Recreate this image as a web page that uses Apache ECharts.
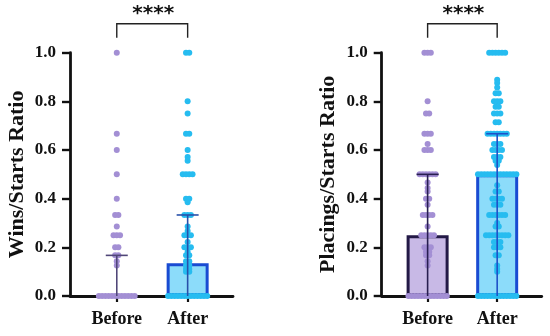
<!DOCTYPE html>
<html><head><meta charset="utf-8">
<script src="https://cdn.jsdelivr.net/npm/echarts@6/dist/echarts.min.js"></script>
<style>html,body{margin:0;padding:0;background:#fff}#c{width:550px;height:336px}</style>
</head><body><div id="c"></div>
<script>
// ---------- data ----------
const categories = ['Before', 'After'];
const yTicks = [0, 0.2, 0.4, 0.6, 0.8, 1.0];
const panelTitles = ['Wins/Starts Ratio', 'Placings/Starts Ratio'];
const significance = ['****', '****'];
// medians (bar heights) and upper IQR (error caps), lower = 0
const winsMedian = [0, 0.135];
const winsUpper = [0.167, 0.333];
const placMedian = [0.25, 0.5];
const placUpper = [0.5, 0.667];
// individual points: [value, number of horses]
const winsBefore = [[1.0,1],[0.667,1],[0.6,1],[0.5,1],[0.4,1],[0.333,2],[0.286,1],[0.25,3],[0.2,2],[0.167,2],[0.143,1],[0.125,1],[0,12]];
const winsAfter = [[1.0,2],[0.8,1],[0.75,1],[0.667,2],[0.6,1],[0.571,1],[0.556,1],[0.5,4],[0.4,2],[0.385,1],[0.333,3],[0.286,1],[0.267,1],[0.25,3],[0.222,1],[0.2,3],[0.182,1],[0.167,2],[0.143,2],[0.125,2],[0.111,2],[0.1,2],[0,13]];
const placBefore = [[1.0,3],[0.8,1],[0.75,2],[0.667,3],[0.625,1],[0.6,3],[0.5,6],[0.467,1],[0.444,1],[0.429,1],[0.4,2],[0.375,1],[0.333,4],[0.286,1],[0.25,5],[0.2,3],[0.182,2],[0.167,2],[0.143,1],[0.125,1],[0,13]];
const placAfter = [[1.0,6],[0.889,1],[0.875,1],[0.857,1],[0.833,2],[0.8,3],[0.778,2],[0.75,3],[0.714,2],[0.667,7],[0.625,3],[0.6,4],[0.571,3],[0.556,2],[0.538,1],[0.5,13],[0.455,1],[0.429,2],[0.4,4],[0.375,3],[0.333,6],[0.3,1],[0.286,2],[0.25,8],[0.222,3],[0.2,3],[0.167,2],[0.125,1],[0.111,1],[0.1,1],[0,13]];

// ---------- layout / style ----------
const catPos = [0.66, 1.66];
const xMax = 2.3;
const dotStep = 0.046; // horizontal swarm step (axis units)
const FONT = 'Liberation Serif';
const INK = '#111';
const dotColors = ['#a38fd4', '#26bcf0'];
const barFill = [['#c8b9e6', '#8cdcfa'], ['#c8b9e6', '#8cdcfa']];
const barEdge = [['#504678', '#194bd2'], ['#231946', '#194bd2']];
const errColors = [['#504678', '#2850aa'], ['#281e50', '#1e50c8']];

function swarm(groups, center) {
  const out = [];
  groups.forEach(([v, n]) => {
    for (let i = 0; i < n; i++) out.push([center + (i - (n - 1) / 2) * dotStep, v]);
  });
  return out;
}
function catName(v) {
  let best = 0;
  catPos.forEach((p, i) => { if (Math.abs(p - v) < Math.abs(catPos[best] - v)) best = i; });
  return categories[best];
}

const grids = [
  { left: 70, top: 52.7, width: 163, height: 243.3 },
  { left: 381.7, top: 52.7, width: 160, height: 243.3 }
];
const lineStyle = { color: INK, width: 2.8 };

const xAxes = grids.map((g, i) => ({
  type: 'value', gridIndex: i, min: 0, max: xMax,
  axisLine: { show: true, onZero: false, lineStyle },
  axisTick: { show: true, customValues: catPos, length: 6, lineStyle: { color: INK, width: 2.2 } },
  axisLabel: { customValues: catPos, formatter: v => catName(v), margin: 14,
    fontFamily: FONT, fontWeight: 'bold', fontSize: 18, color: INK },
  splitLine: { show: false }
}));
const yAxes = grids.map((g, i) => ({
  type: 'value', gridIndex: i, min: 0, max: 1, interval: 0.2,
  name: panelTitles[i], nameLocation: 'middle', nameGap: 42,
  nameTextStyle: { fontFamily: FONT, fontWeight: 'bold', fontSize: 22, color: INK },
  axisLine: { show: true, lineStyle },
  axisTick: { show: true, length: 8, lineStyle: { color: INK, width: 2.4 } },
  axisLabel: { formatter: v => yTicks.includes(Math.round(v * 10) / 10) ? v.toFixed(1) : '', margin: 14,
    fontFamily: FONT, fontWeight: 'bold', fontSize: 17, color: INK },
  splitLine: { show: false }
}));

const medians = [winsMedian, placMedian];
const uppers = [winsUpper, placUpper];
const dots = [[winsBefore, winsAfter], [placBefore, placAfter]];
const series = [];
[0, 1].forEach(p => {
  series.push({
    type: 'bar', xAxisIndex: p, yAxisIndex: p, barWidth: 42, z: 2,
    data: medians[p].map((m, c) => ({ value: [catPos[c], m],
      itemStyle: { color: barFill[p][c], borderColor: barEdge[p][c], borderWidth: m > 0 ? 3 : 0 } }))
  });
  [0, 1].forEach(c => {
    series.push({
      type: 'scatter', xAxisIndex: p, yAxisIndex: p, symbolSize: 6, z: 3, clip: false,
      itemStyle: { color: dotColors[c], opacity: 1 },
      data: swarm(dots[p][c], catPos[c])
    });
  });
  series.push({
    type: 'custom', xAxisIndex: p, yAxisIndex: p, z: 4, clip: false,
    data: uppers[p].map((u, c) => ({ value: [catPos[c], u, 0], itemStyle: { color: errColors[p][c] } })),
    renderItem: (params, api) => {
      const top = api.coord([api.value(0), api.value(1)]);
      const bot = api.coord([api.value(0), api.value(2)]);
      const col = api.visual('color');
      const st = { stroke: col, lineWidth: 1.6 };
      return { type: 'group', children: [
        { type: 'line', shape: { x1: top[0], y1: top[1], x2: bot[0], y2: bot[1] }, style: st },
        { type: 'line', shape: { x1: top[0] - 11, y1: top[1], x2: top[0] + 11, y2: top[1] }, style: st }
      ] };
    }
  });
  series.push({
    type: 'custom', xAxisIndex: p, yAxisIndex: p, z: 4, clip: false,
    data: [[catPos[0], catPos[1], 1]],
    renderItem: (params, api) => {
      const a = api.coord([api.value(0), api.value(2)]);
      const b = api.coord([api.value(1), api.value(2)]);
      const yTop = a[1] - 29, yLeg = a[1] - 15;
      const st = { stroke: '#222', lineWidth: 1.4, fill: null };
      return { type: 'group', children: [
        { type: 'polyline', shape: { points: [[a[0], yLeg], [a[0], yTop], [b[0], yTop], [b[0], yLeg]] }, style: st },
        { type: 'text', x: (a[0] + b[0]) / 2 + 1, y: yTop - 10,
          style: { text: significance[p], fontFamily: 'DejaVu Sans', fontWeight: 'bold', fontSize: 20, fill: INK,
            align: 'center', verticalAlign: 'middle' } }
      ] };
    }
  });
});

const chart = echarts.init(document.getElementById('c'), null, { renderer: 'canvas' });
chart.setOption({
  animation: false,
  backgroundColor: '#fff',
  grid: grids,
  xAxis: xAxes,
  yAxis: yAxes,
  series
});
</script></body></html>
